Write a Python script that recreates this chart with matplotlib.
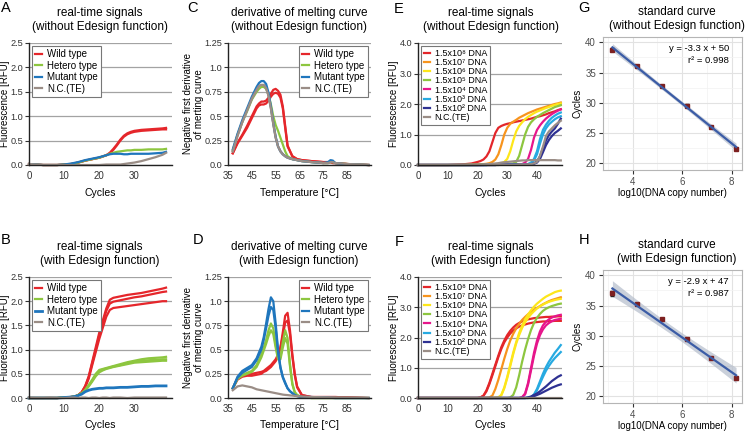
import numpy as np
import matplotlib
matplotlib.use('Agg')
import matplotlib.pyplot as plt
from matplotlib.ticker import MultipleLocator

plt.rcParams['font.family'] = ['Liberation Sans', 'DejaVu Sans']

# ---------------- data ----------------
genotype_labels = ['Wild type', 'Hetero type', 'Mutant type', 'N.C.(TE)']
dna_labels = ['1.5x10⁸ DNA', '1.5x10⁷ DNA', '1.5x10⁶ DNA', '1.5x10⁵ DNA',
              '1.5x10⁴ DNA', '1.5x10³ DNA', '1.5x10² DNA', 'N.C.(TE)']

# Panel A: real-time signals without Edesign
A_cycles = [0, 2, 4, 6, 8, 10, 12, 14, 16, 18, 20, 22, 23, 24, 25, 26, 27, 28, 29, 30, 32, 34, 36, 38, 39]
A_wild1 = [0.02, 0.01, 0.0, 0.0, 0.0, 0.01, 0.02, 0.05, 0.09, 0.12, 0.15, 0.2, 0.25, 0.33, 0.42, 0.52, 0.6, 0.65, 0.68, 0.7, 0.72, 0.73, 0.74, 0.75, 0.76]
A_wild2 = [0.02, 0.01, 0.0, 0.0, 0.0, 0.01, 0.02, 0.05, 0.09, 0.12, 0.15, 0.2, 0.24, 0.31, 0.4, 0.5, 0.58, 0.63, 0.66, 0.68, 0.7, 0.71, 0.72, 0.73, 0.73]
A_hetero = [0.02, 0.01, 0.0, 0.0, 0.0, 0.01, 0.02, 0.05, 0.09, 0.12, 0.15, 0.2, 0.23, 0.25, 0.27, 0.28, 0.29, 0.3, 0.3, 0.31, 0.31, 0.32, 0.32, 0.32, 0.33]
A_mutant = [0.02, 0.01, 0.0, 0.0, 0.0, 0.01, 0.03, 0.06, 0.1, 0.13, 0.16, 0.2, 0.22, 0.23, 0.23, 0.23, 0.22, 0.22, 0.23, 0.23, 0.23, 0.23, 0.24, 0.25, 0.27]
A_nc = [0.02, 0.01, 0.0, 0.0, 0.0, 0.0, 0.0, 0.0, 0.0, 0.0, 0.0, 0.01, 0.01, 0.01, 0.01, 0.01, 0.02, 0.03, 0.04, 0.05, 0.08, 0.12, 0.16, 0.21, 0.25]

# Panel B: real-time signals with Edesign
B_cycles = [0, 2, 4, 6, 8, 10, 12, 13, 14, 15, 16, 17, 18, 19, 20, 21, 22, 23, 24, 26, 28, 30, 32, 34, 36, 38, 39]
B_wild1 = [0, 0, 0, 0, 0, 0.01, 0.02, 0.03, 0.06, 0.12, 0.25, 0.45, 0.75, 1.05, 1.35, 1.6, 1.85, 2.03, 2.07, 2.1, 2.13, 2.15, 2.17, 2.2, 2.23, 2.26, 2.28]
B_wild2 = [0, 0, 0, 0, 0, 0.01, 0.02, 0.03, 0.06, 0.12, 0.24, 0.43, 0.72, 1.0, 1.3, 1.55, 1.8, 1.95, 1.99, 2.02, 2.05, 2.08, 2.1, 2.13, 2.16, 2.19, 2.2]
B_wild3 = [0, 0, 0, 0, 0, 0.01, 0.02, 0.03, 0.06, 0.11, 0.22, 0.4, 0.68, 0.95, 1.22, 1.45, 1.68, 1.82, 1.86, 1.88, 1.9, 1.92, 1.94, 1.96, 1.98, 2.0, 2.0]
B_het1 = [0, 0, 0, 0, 0, 0.01, 0.02, 0.03, 0.06, 0.1, 0.17, 0.27, 0.38, 0.5, 0.58, 0.6, 0.62, 0.64, 0.66, 0.7, 0.74, 0.77, 0.8, 0.82, 0.83, 0.84, 0.85]
B_het2 = [0, 0, 0, 0, 0, 0.01, 0.02, 0.03, 0.06, 0.1, 0.16, 0.25, 0.36, 0.48, 0.56, 0.59, 0.61, 0.63, 0.65, 0.68, 0.72, 0.75, 0.77, 0.78, 0.79, 0.8, 0.8]
B_het3 = [0, 0, 0, 0, 0, 0.01, 0.02, 0.03, 0.05, 0.09, 0.15, 0.24, 0.34, 0.45, 0.53, 0.57, 0.6, 0.62, 0.64, 0.67, 0.7, 0.73, 0.74, 0.75, 0.76, 0.77, 0.77]
B_mutant = [0, 0, 0, 0, 0, 0.01, 0.02, 0.03, 0.05, 0.08, 0.13, 0.16, 0.18, 0.19, 0.2, 0.2, 0.21, 0.21, 0.21, 0.22, 0.22, 0.23, 0.24, 0.24, 0.25, 0.25, 0.25]
B_nc = [0.01, 0.0, 0.0, 0.01, 0.0, 0.0, 0.01, 0.01, 0.0, 0.01, 0.01, 0.0, 0.01, 0.01, 0.0, 0.01, 0.01, 0.0, 0.01, 0.01, 0.0, 0.01, 0.01, 0.01, 0.01, 0.01, 0.01]

# Panel C: melting curve derivative without Edesign
C_temp = [37, 39, 41, 43, 45, 47, 48, 49, 50, 51, 52, 53, 54, 55, 56, 57, 58, 59, 60, 62, 64, 66, 70, 75, 77, 78, 79, 80, 85, 94]
C_wild1 = [0.12, 0.23, 0.31, 0.4, 0.5, 0.6, 0.63, 0.65, 0.65, 0.66, 0.69, 0.73, 0.77, 0.78, 0.76, 0.72, 0.6, 0.4, 0.2, 0.09, 0.06, 0.05, 0.04, 0.03, 0.03, 0.03, 0.02, 0.02, 0.01, 0.0]
C_wild2 = [0.12, 0.22, 0.3, 0.38, 0.48, 0.58, 0.61, 0.62, 0.62, 0.63, 0.66, 0.7, 0.73, 0.74, 0.73, 0.69, 0.58, 0.38, 0.19, 0.09, 0.06, 0.05, 0.04, 0.03, 0.03, 0.03, 0.02, 0.02, 0.01, 0.0]
C_hetero = [0.15, 0.31, 0.44, 0.55, 0.67, 0.75, 0.78, 0.8, 0.8, 0.78, 0.72, 0.62, 0.5, 0.41, 0.35, 0.28, 0.21, 0.14, 0.09, 0.06, 0.05, 0.04, 0.03, 0.02, 0.02, 0.03, 0.03, 0.02, 0.01, 0.0]
C_mutant = [0.16, 0.32, 0.46, 0.58, 0.7, 0.8, 0.84, 0.86, 0.86, 0.83, 0.74, 0.6, 0.43, 0.29, 0.19, 0.14, 0.11, 0.09, 0.075, 0.06, 0.05, 0.04, 0.03, 0.02, 0.03, 0.05, 0.045, 0.02, 0.005, 0.0]
C_nc = [0.14, 0.3, 0.44, 0.56, 0.68, 0.77, 0.81, 0.82, 0.82, 0.79, 0.71, 0.58, 0.42, 0.28, 0.19, 0.14, 0.11, 0.09, 0.075, 0.06, 0.05, 0.04, 0.03, 0.02, 0.02, 0.03, 0.03, 0.02, 0.01, 0.0]

# Panel D: melting curve derivative with Edesign
D_temp = [37, 39, 41, 43, 45, 47, 49, 50, 51, 52, 53, 54, 55, 56, 57, 58, 59, 60, 61, 62, 63, 64, 66, 70, 80, 94]
D_wild = [0.1, 0.19, 0.22, 0.23, 0.23, 0.24, 0.25, 0.27, 0.28, 0.3, 0.32, 0.35, 0.38, 0.43, 0.52, 0.68, 0.85, 0.88, 0.7, 0.45, 0.25, 0.12, 0.03, 0.01, 0.01, 0.0]
D_wild2 = [0.1, 0.2, 0.23, 0.24, 0.25, 0.26, 0.27, 0.28, 0.3, 0.32, 0.34, 0.37, 0.4, 0.45, 0.52, 0.64, 0.78, 0.8, 0.66, 0.43, 0.24, 0.11, 0.03, 0.01, 0.01, 0.0]
D_hetero = [0.1, 0.2, 0.24, 0.26, 0.28, 0.34, 0.45, 0.52, 0.6, 0.7, 0.77, 0.72, 0.55, 0.42, 0.42, 0.58, 0.7, 0.62, 0.35, 0.15, 0.06, 0.03, 0.01, 0.0, 0.0, 0.0]
D_hetero2 = [0.1, 0.2, 0.23, 0.25, 0.27, 0.32, 0.42, 0.49, 0.56, 0.64, 0.7, 0.66, 0.52, 0.4, 0.4, 0.52, 0.62, 0.56, 0.33, 0.14, 0.06, 0.03, 0.01, 0.0, 0.0, 0.0]
D_mutant = [0.1, 0.22, 0.28, 0.31, 0.34, 0.41, 0.53, 0.63, 0.77, 0.92, 1.04, 1.0, 0.77, 0.5, 0.32, 0.22, 0.16, 0.1, 0.07, 0.05, 0.03, 0.02, 0.01, 0.01, 0.0, 0.0]
D_mutant2 = [0.1, 0.21, 0.26, 0.29, 0.32, 0.39, 0.5, 0.6, 0.72, 0.85, 0.94, 0.91, 0.72, 0.47, 0.31, 0.21, 0.15, 0.1, 0.07, 0.05, 0.03, 0.02, 0.01, 0.01, 0.0, 0.0]
D_nc = [0.08, 0.12, 0.13, 0.12, 0.11, 0.09, 0.08, 0.075, 0.07, 0.065, 0.06, 0.055, 0.05, 0.045, 0.04, 0.035, 0.032, 0.03, 0.027, 0.025, 0.022, 0.02, 0.015, 0.01, 0.005, 0.0]

# Panel E: dilution series without Edesign
E_cycles = [0, 5, 10, 15, 18, 20, 21, 22, 23, 24, 25, 26, 27, 28, 29, 30, 31, 32, 33, 34, 35, 36, 37, 38, 39, 40, 41, 42, 43, 44, 45, 46, 47, 48]
E_1e8 = [0, 0, 0, 0.02, 0.05, 0.1, 0.13, 0.18, 0.28, 0.45, 0.75, 1.05, 1.22, 1.28, 1.32, 1.35, 1.37, 1.4, 1.42, 1.44, 1.46, 1.48, 1.5, 1.52, 1.55, 1.58, 1.6, 1.63, 1.66, 1.7, 1.73, 1.76, 1.8, 1.83]
E_1e7 = [0, 0, 0, 0.01, 0.02, 0.02, 0.02, 0.03, 0.04, 0.06, 0.1, 0.18, 0.35, 0.65, 1.0, 1.22, 1.35, 1.42, 1.48, 1.55, 1.6, 1.65, 1.7, 1.74, 1.78, 1.82, 1.85, 1.88, 1.91, 1.94, 1.97, 2.0, 2.02, 2.05]
E_1e6 = [0, 0, 0, 0, 0.01, 0.01, 0.01, 0.01, 0.02, 0.02, 0.02, 0.02, 0.03, 0.05, 0.1, 0.2, 0.45, 0.8, 1.1, 1.28, 1.4, 1.5, 1.58, 1.64, 1.7, 1.75, 1.79, 1.83, 1.87, 1.9, 1.94, 1.97, 2.0, 2.02]
E_1e5 = [0, 0, 0, 0, 0, 0, 0.01, 0.01, 0.01, 0.01, 0.01, 0.02, 0.02, 0.02, 0.03, 0.03, 0.04, 0.05, 0.1, 0.3, 0.65, 1.0, 1.25, 1.4, 1.5, 1.58, 1.64, 1.7, 1.75, 1.8, 1.85, 1.9, 1.93, 1.96]
E_1e4 = [0, 0, 0, 0, 0, 0, 0, 0, 0.01, 0.01, 0.01, 0.01, 0.01, 0.01, 0.02, 0.02, 0.02, 0.02, 0.02, 0.03, 0.03, 0.08, 0.2, 0.5, 0.9, 1.15, 1.3, 1.42, 1.52, 1.6, 1.67, 1.73, 1.78, 1.82]
E_1e3 = [0, 0, 0, 0, 0, 0, 0, 0, 0, 0.01, 0.01, 0.01, 0.01, 0.01, 0.01, 0.01, 0.02, 0.02, 0.02, 0.02, 0.02, 0.02, 0.03, 0.08, 0.2, 0.45, 0.85, 1.15, 1.32, 1.45, 1.55, 1.62, 1.68, 1.72]
E_1e3b = [0, 0, 0, 0, 0, 0, 0, 0, 0, 0.01, 0.01, 0.01, 0.01, 0.01, 0.01, 0.01, 0.02, 0.02, 0.02, 0.02, 0.02, 0.02, 0.03, 0.06, 0.15, 0.35, 0.7, 1.0, 1.2, 1.33, 1.42, 1.5, 1.56, 1.6]
E_1e2 = [0, 0, 0, 0, 0, 0, 0, 0, 0, 0, 0, 0, 0.01, 0.01, 0.01, 0.01, 0.01, 0.01, 0.01, 0.02, 0.02, 0.02, 0.02, 0.03, 0.05, 0.12, 0.28, 0.55, 0.8, 0.98, 1.1, 1.2, 1.35, 1.52]
E_1e2b = [0, 0, 0, 0, 0, 0, 0, 0, 0, 0, 0, 0, 0.01, 0.01, 0.01, 0.01, 0.01, 0.01, 0.01, 0.02, 0.02, 0.02, 0.02, 0.02, 0.04, 0.08, 0.2, 0.42, 0.65, 0.82, 0.95, 1.05, 1.12, 1.2]
E_nc = [0, 0, 0, 0, 0, 0, 0, 0, 0, 0, 0, 0, 0, 0.01, 0.01, 0.01, 0.01, 0.01, 0.01, 0.02, 0.02, 0.02, 0.02, 0.03, 0.05, 0.1, 0.3, 0.6, 0.95, 1.1, 1.2, 1.3, 1.38, 1.45]
E_nc2 = [0, 0, 0, 0, 0, 0, 0, 0.01, 0.02, 0.03, 0.04, 0.05, 0.06, 0.08, 0.09, 0.1, 0.11, 0.12, 0.13, 0.14, 0.15, 0.15, 0.16, 0.16, 0.16, 0.16, 0.16, 0.16, 0.16, 0.16, 0.16, 0.16, 0.15, 0.15]

# Panel F: dilution series with Edesign
F_cycles = E_cycles
F_1e8 = [0, 0, 0, 0, 0, 0, 0.02, 0.08, 0.25, 0.5, 0.8, 1.1, 1.4, 1.68, 1.9, 2.08, 2.22, 2.33, 2.42, 2.48, 2.53, 2.57, 2.6, 2.62, 2.64, 2.65, 2.66, 2.67, 2.68, 2.68, 2.69, 2.69, 2.7, 2.7]
F_1e8b = [0, 0, 0, 0, 0, 0, 0.02, 0.07, 0.22, 0.46, 0.75, 1.05, 1.35, 1.62, 1.84, 2.0, 2.13, 2.23, 2.3, 2.36, 2.4, 2.43, 2.46, 2.48, 2.5, 2.51, 2.52, 2.53, 2.53, 2.54, 2.54, 2.55, 2.55, 2.55]
F_1e7 = [0, 0, 0, 0, 0, 0, 0, 0, 0.01, 0.02, 0.08, 0.3, 0.6, 0.95, 1.3, 1.62, 1.9, 2.12, 2.3, 2.45, 2.58, 2.68, 2.77, 2.85, 2.92, 2.98, 3.04, 3.1, 3.15, 3.2, 3.24, 3.27, 3.3, 3.33]
F_1e6 = [0, 0, 0, 0, 0, 0, 0, 0, 0, 0, 0, 0.01, 0.02, 0.1, 0.35, 0.7, 1.1, 1.5, 1.85, 2.15, 2.4, 2.6, 2.76, 2.9, 3.02, 3.12, 3.2, 3.28, 3.35, 3.4, 3.45, 3.5, 3.53, 3.55]
F_1e6b = [0, 0, 0, 0, 0, 0, 0, 0, 0, 0, 0, 0.01, 0.02, 0.09, 0.32, 0.66, 1.05, 1.45, 1.8, 2.08, 2.32, 2.5, 2.65, 2.77, 2.87, 2.96, 3.03, 3.09, 3.14, 3.18, 3.21, 3.24, 3.26, 3.28]
F_1e5 = [0, 0, 0, 0, 0, 0, 0, 0, 0, 0, 0, 0, 0, 0, 0, 0, 0.02, 0.1, 0.35, 0.75, 1.2, 1.6, 1.95, 2.25, 2.48, 2.65, 2.78, 2.88, 2.95, 3.0, 3.04, 3.07, 3.1, 3.12]
F_1e4 = [0, 0, 0, 0, 0, 0, 0, 0, 0, 0, 0, 0, 0, 0, 0, 0, 0, 0, 0, 0, 0.03, 0.15, 0.5, 1.0, 1.5, 1.9, 2.2, 2.4, 2.52, 2.6, 2.66, 2.7, 2.73, 2.75]
F_1e4b = [0, 0, 0, 0, 0, 0, 0, 0, 0, 0, 0, 0, 0, 0, 0, 0, 0, 0, 0, 0, 0.02, 0.12, 0.45, 0.92, 1.4, 1.8, 2.08, 2.27, 2.4, 2.48, 2.54, 2.58, 2.6, 2.62]
F_1e3 = [0, 0, 0, 0, 0, 0, 0, 0, 0, 0, 0, 0, 0, 0, 0, 0, 0, 0, 0, 0, 0, 0, 0, 0.03, 0.12, 0.3, 0.55, 0.8, 1.02, 1.2, 1.35, 1.5, 1.62, 1.75]
F_1e3b = [0, 0, 0, 0, 0, 0, 0, 0, 0, 0, 0, 0, 0, 0, 0, 0, 0, 0, 0, 0, 0, 0, 0, 0.02, 0.1, 0.26, 0.48, 0.7, 0.9, 1.06, 1.2, 1.32, 1.42, 1.52]
F_1e2 = [0, 0, 0, 0, 0, 0, 0, 0, 0, 0, 0, 0, 0, 0, 0, 0, 0, 0, 0, 0, 0, 0, 0.02, 0.05, 0.1, 0.15, 0.22, 0.3, 0.38, 0.47, 0.56, 0.63, 0.7, 0.75]
F_1e2b = [0, 0, 0, 0, 0, 0, 0, 0, 0, 0, 0, 0, 0, 0, 0, 0, 0, 0, 0, 0, 0, 0, 0.01, 0.03, 0.06, 0.1, 0.14, 0.19, 0.24, 0.29, 0.34, 0.38, 0.42, 0.45]
F_nc = [0.01] * len(E_cycles)

# Panels G/H: standard curves
log_copy = [3.18, 4.18, 5.18, 6.18, 7.18, 8.18]
G_ct = [38.8, 36.0, 32.8, 29.5, 26.0, 22.3]
G_sd = [0.25, 0.1, 0.1, 0.25, 0.1, 0.1]
H_ct = [37.0, 35.3, 32.8, 29.4, 26.3, 22.9]
H_sd = [0.4, 0.15, 0.1, 0.1, 0.1, 0.1]

# ---------------- style ----------------
RED = '#e5262b'; GREEN = '#8dc63f'; BLUE = '#1f76bd'; GRAY = '#9a8d86'
DNA_COLORS = ['#e3262a', '#f7941d', '#fde61a', '#8dc63f', '#e6168b', '#27aae1', '#2e3192', '#9a8d86']

fig = plt.figure(figsize=(7.48, 4.32), dpi=100)


def px_axes(l, t, r, b):
    return fig.add_axes([l / 748, 1 - b / 432, (r - l) / 748, (b - t) / 432])


def style_mpl(ax, ylim, yticks, ylabels, xlim, xticks):
    ax.set_xlim(*xlim)
    ax.set_ylim(*ylim)
    ax.set_yticks(yticks)
    ax.set_yticklabels(ylabels)
    ax.set_xticks(xticks)
    for s in ['top', 'right']:
        ax.spines[s].set_visible(False)
    for s in ['left', 'bottom']:
        ax.spines[s].set_color('#222222')
        ax.spines[s].set_linewidth(1.0)
    ax.yaxis.grid(True, color='#a3a3a3', lw=0.9)
    ax.set_axisbelow(True)
    ax.tick_params(axis='y', length=3, width=0.8, pad=1, labelsize=6.6, colors='#333333')
    ax.tick_params(axis='x', length=0, pad=4, labelsize=7, labelcolor='#333333')


def legend(ax, handles, labels, loc, fs, sp):
    lg = ax.legend(handles, labels, loc=loc, fontsize=fs, handlelength=0.7, handletextpad=0.5,
                   labelspacing=sp, borderpad=0.35, borderaxespad=0.3, fancybox=False,
                   framealpha=1, edgecolor='#777777')
    lg.get_frame().set_linewidth(0.8)


def style_gg(ax):
    for s in ax.spines.values():
        s.set_color('#b5b5b5')
        s.set_linewidth(0.8)
    ax.grid(True, which='major', color='#e2e2e2', lw=0.8)
    ax.grid(True, which='minor', color='#f2f2f2', lw=0.5)
    ax.set_axisbelow(True)
    ax.tick_params(which='major', length=3, color='#333333', labelsize=7, labelcolor='#4d4d4d', pad=2)
    ax.tick_params(which='minor', length=0)


LW = 1.6
title_kw = dict(fontsize=8.5, ha='center', va='center', linespacing=1.25)


def labels_rt(ax, xc):
    ax.set_xlabel('Cycles', fontsize=7.5, labelpad=5)
    ax.set_ylabel('Fluorescence [RFU]', fontsize=7)
    ax.yaxis.set_label_coords(xc, 0.5)


def labels_melt(ax):
    ax.set_xlabel('Temperature [°C]', fontsize=7.5, labelpad=5)
    ax.set_ylabel('Negative first derivative\nof merting curve', fontsize=7)
    ax.yaxis.set_label_coords(-0.165, 0.5)


# ---- A ----
ax = px_axes(29, 43, 172, 165)
hw = [ax.plot(A_cycles, y, color=RED, lw=LW, clip_on=False)[0] for y in (A_wild1, A_wild2)][0]
hh = ax.plot(A_cycles, A_hetero, color=GREEN, lw=LW, clip_on=False)[0]
hm = ax.plot(A_cycles, A_mutant, color=BLUE, lw=LW, clip_on=False)[0]
hn = ax.plot(A_cycles, A_nc, color=GRAY, lw=LW, clip_on=False)[0]
style_mpl(ax, (0, 2.5), [0, 0.5, 1.0, 1.5, 2.0, 2.5], ['0.0', '0.5', '1.0', '1.5', '2.0', '2.5'], (0, 40.7), [0, 10, 20, 30])
labels_rt(ax, -0.13)
legend(ax, [hw, hh, hm, hn], genotype_labels, 'upper left', 7, 0.15)

# ---- B ----
ax = px_axes(29, 277, 172, 398)
hw = [ax.plot(B_cycles, y, color=RED, lw=LW, clip_on=False)[0] for y in (B_wild1, B_wild2, B_wild3)][0]
hh = [ax.plot(B_cycles, y, color=GREEN, lw=LW, clip_on=False)[0] for y in (B_het1, B_het2, B_het3)][0]
hm = ax.plot(B_cycles, B_mutant, color=BLUE, lw=LW + 0.4, clip_on=False)[0]
hn = ax.plot(B_cycles, B_nc, color=GRAY, lw=LW, clip_on=False)[0]
style_mpl(ax, (0, 2.5), [0, 0.5, 1.0, 1.5, 2.0, 2.5], ['0.0', '0.5', '1.0', '1.5', '2.0', '2.5'], (0, 40.7), [0, 10, 20, 30])
labels_rt(ax, -0.13)
legend(ax, [hw, hh, hm, hn], genotype_labels, 'upper left', 7, 0.15)

# ---- C ----
ax = px_axes(228, 43, 371, 165)
hw = [ax.plot(C_temp, y, color=RED, lw=LW, clip_on=False)[0] for y in (C_wild1, C_wild2)][0]
hh = ax.plot(C_temp, C_hetero, color=GREEN, lw=LW, clip_on=False)[0]
hn = ax.plot(C_temp, C_nc, color=GRAY, lw=LW, clip_on=False)[0]
hm = ax.plot(C_temp, C_mutant, color=BLUE, lw=LW, clip_on=False)[0]
ax.plot(C_temp, C_nc, color=GRAY, lw=LW, clip_on=False)
style_mpl(ax, (0, 1.25), [0, 0.25, 0.5, 0.75, 1.0, 1.25], ['0.0', '0.25', '0.5', '0.75', '1.0', '1.25'], (35, 95), [35, 45, 55, 65, 75, 85])
labels_melt(ax)
legend(ax, [hw, hh, hm, hn], genotype_labels, 'upper right', 7, 0.15)

# ---- D ----
ax = px_axes(228, 277, 371, 398)
hw = [ax.plot(D_temp, y, color=RED, lw=LW, clip_on=False)[0] for y in (D_wild, D_wild2)][0]
hh = [ax.plot(D_temp, y, color=GREEN, lw=LW, clip_on=False)[0] for y in (D_hetero, D_hetero2)][0]
hm = [ax.plot(D_temp, y, color=BLUE, lw=LW, clip_on=False)[0] for y in (D_mutant, D_mutant2)][0]
hn = ax.plot(D_temp, D_nc, color=GRAY, lw=LW, clip_on=False)[0]
style_mpl(ax, (0, 1.25), [0, 0.25, 0.5, 0.75, 1.0, 1.25], ['0.0', '0.25', '0.5', '0.75', '1.0', '1.25'], (35, 95), [35, 45, 55, 65, 75, 85])
labels_melt(ax)
legend(ax, [hw, hh, hm, hn], genotype_labels, 'upper right', 7, 0.15)

# ---- E ----
ax = px_axes(418, 43, 562, 165)
E_series = [[E_1e8], [E_1e7], [E_1e6], [E_1e5], [E_1e4], [E_1e3, E_1e3b], [E_1e2, E_1e2b], [E_nc, E_nc2]]
handles = []
for reps, c in zip(E_series, DNA_COLORS):
    hs = [ax.plot(E_cycles, y, color=c, lw=LW, clip_on=False)[0] for y in reps]
    handles.append(hs[0])
style_mpl(ax, (0, 4.0), [0, 1, 2, 3, 4], ['0.0', '1.0', '2.0', '3.0', '4.0'], (0, 48.4), [0, 10, 20, 30, 40])
labels_rt(ax, -0.13)
legend(ax, handles, dna_labels, 'upper left', 6.5, 0.02)

# ---- F ----
ax = px_axes(418, 277, 562, 398)
F_series = [[F_1e8, F_1e8b], [F_1e7], [F_1e6, F_1e6b], [F_1e5], [F_1e4, F_1e4b], [F_1e3, F_1e3b], [F_1e2, F_1e2b], [F_nc]]
handles = []
for reps, c in zip(F_series, DNA_COLORS):
    hs = [ax.plot(F_cycles, y, color=c, lw=LW, clip_on=False)[0] for y in reps]
    handles.append(hs[0])
style_mpl(ax, (0, 4.0), [0, 1, 2, 3, 4], ['0.0', '1.0', '2.0', '3.0', '4.0'], (0, 48.4), [0, 10, 20, 30, 40])
labels_rt(ax, -0.13)
legend(ax, handles, dna_labels, 'upper left', 6.5, 0.02)


# ---- G / H ----
def std_curve(ax, ct, sd, eq1, eq2):
    x = np.array(log_copy)
    y = np.array(ct)
    slope, inter = np.polyfit(x, y, 1)
    xx = np.linspace(x.min(), x.max(), 80)
    yy = slope * xx + inter
    n = len(x)
    resid = y - (slope * x + inter)
    s = np.sqrt(np.sum(resid ** 2) / (n - 2))
    se = s * np.sqrt(1 / n + (xx - x.mean()) ** 2 / np.sum((x - x.mean()) ** 2))
    ax.fill_between(xx, yy - 2.776 * se, yy + 2.776 * se, color='#b4bccb', alpha=0.7, lw=0)
    ax.errorbar(x, y, yerr=sd, fmt='s', ms=3, color='#7d2020', ecolor='#222222', elinewidth=0.8, capsize=1.5, zorder=3)
    ax.plot(xx, yy, color='#3b5ca6', lw=1.6, zorder=4)
    ax.set_xlim(2.8, 8.42)
    ax.set_ylim(18.8, 40.9)
    ax.xaxis.set_major_locator(MultipleLocator(2))
    ax.xaxis.set_minor_locator(MultipleLocator(1))
    ax.yaxis.set_major_locator(MultipleLocator(5))
    ax.yaxis.set_minor_locator(MultipleLocator(2.5))
    style_gg(ax)
    ax.set_xlabel('log10(DNA copy number)', fontsize=7, labelpad=0.5)
    ax.set_ylabel('Cycles', fontsize=7)
    ax.yaxis.set_label_coords(-0.15, 0.5)
    ax.text(0.905, 0.91, eq1, transform=ax.transAxes, ha='right', va='center', fontsize=6.8)
    ax.text(0.905, 0.82, eq2, transform=ax.transAxes, ha='right', va='center', fontsize=6.8)


ax = px_axes(603, 37, 742, 170)
std_curve(ax, G_ct, G_sd, 'y = -3.3 x + 50', 'r² = 0.998')
ax = px_axes(603, 270, 742, 403)
std_curve(ax, H_ct, H_sd, 'y = -2.9 x + 47', 'r² = 0.987')


# ---- titles and panel letters ----
def ftext(x, y, s, **kw):
    fig.text(x / 748, 1 - y / 432, s, **kw)


ftext(100, 20, 'real-time signals\n(without Edesign function)', **title_kw)
ftext(100, 254, 'real-time signals\n(with Edesign function)', **title_kw)
ftext(299, 20, 'derivative of melting curve\n(without Edesign function)', **title_kw)
ftext(299, 254, 'derivative of melting curve\n(with Edesign function)', **title_kw)
ftext(491, 20, 'real-time signals\n(without Edesign function)', **title_kw)
ftext(491, 254, 'real-time signals\n(with Edesign function)', **title_kw)
ftext(677, 19, 'standard curve\n(without Edesign function)', **title_kw)
ftext(677, 252, 'standard curve\n(with Edesign function)', **title_kw)

let_kw = dict(fontsize=10.5, ha='center', va='center')
ftext(6, 8, 'A', **let_kw)
ftext(6, 240, 'B', **let_kw)
ftext(192, 8, 'C', **let_kw)
ftext(198, 240, 'D', **let_kw)
ftext(399, 9, 'E', **let_kw)
ftext(399, 242, 'F', **let_kw)
ftext(584, 8, 'G', **let_kw)
ftext(584, 240, 'H', **let_kw)

fig.savefig('out.png', dpi=100)
